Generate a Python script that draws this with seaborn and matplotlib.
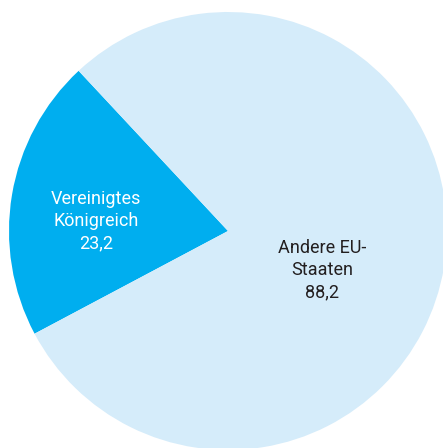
import matplotlib
matplotlib.use("Agg")
import matplotlib.pyplot as plt
import seaborn as sns

categories = ["Vereinigtes\nKönigreich", "Andere EU-\nStaaten"]
values = [23.2, 88.2]
value_labels = ["23,2", "88,2"]
colors = ["#00AEEF", "#D5ECFA"]
text_colors = ["white", "#231F20"]

sns.set_theme(style="white")
plt.rcParams['font.family'] = ['Roboto', 'DejaVu Sans']

fig = plt.figure(figsize=(4.43, 4.48), dpi=100)
ax = fig.add_axes([0, 0, 1, 1])
ax.pie(values, colors=colors, startangle=133, counterclock=True, radius=1.0,
       wedgeprops=dict(linewidth=0))
ax.set_xlim(-228/219, (443-228)/219)
ax.set_ylim(-(448-231)/219, 231/219)
ax.set_aspect('auto')
ax.axis('off')

label_pos = [(-0.603, 0.046), (0.429, -0.178)]
for cat, vl, (x, y), tc in zip(categories, value_labels, label_pos, text_colors):
    ax.text(x, y, f"{cat}\n{vl}", ha="center", va="center", color=tc,
            fontsize=13, linespacing=1.3)

fig.savefig("out.png", dpi=100)
